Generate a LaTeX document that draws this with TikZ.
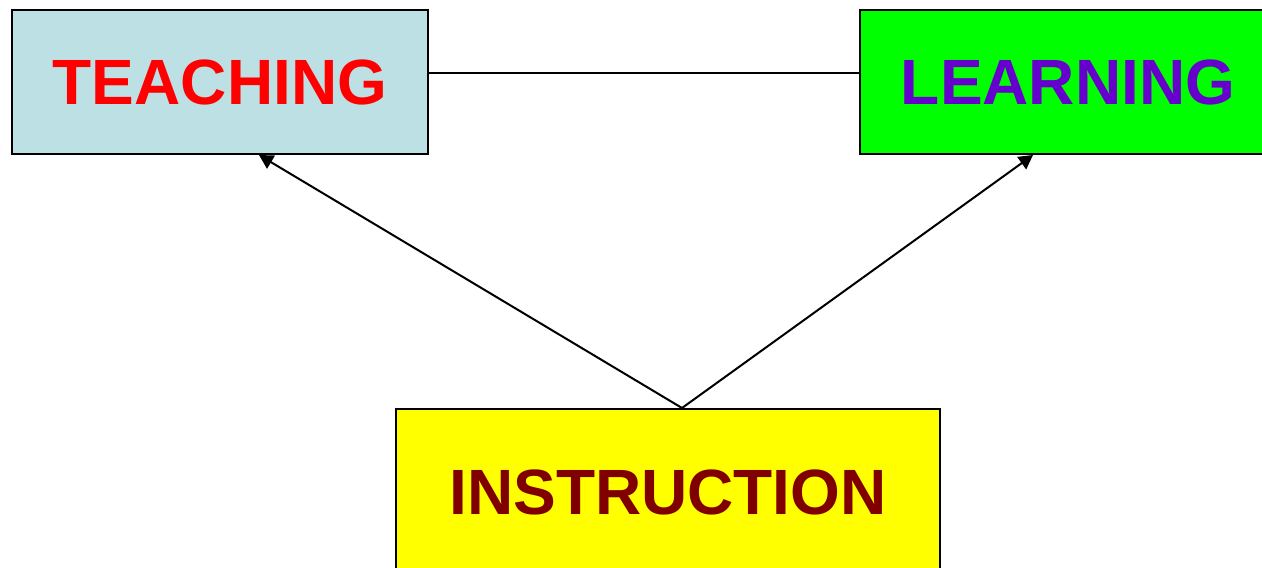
\documentclass[tikz,border=0pt]{standalone}
\usepackage{fontspec}
\setmainfont{Liberation Sans}
\usetikzlibrary{arrows.meta}
\definecolor{teachbg}{HTML}{BCE0E4}
\definecolor{learnbg}{HTML}{00FF00}
\definecolor{instbg}{HTML}{FFFF00}
\definecolor{teachtx}{HTML}{FF0000}
\definecolor{learntx}{HTML}{6600CC}
\definecolor{insttx}{HTML}{800000}
\tikzset{
  box/.style={draw=black, line width=1pt, inner sep=0pt, anchor=north west,
    font=\fontsize{32}{38}\selectfont\bfseries},
  link/.style={draw=black, line width=1pt},
  arr/.style={link, -{Triangle[length=7pt,width=7.5pt]}}
}
\begin{document}
\begin{tikzpicture}[x=0.5pt, y=-0.5pt]
  \useasboundingbox (0,0) rectangle (1262,567);
  \clip (0,0) rectangle (1262,567);
  % three concept boxes
  \node[box, fill=teachbg, text=teachtx, minimum width=208pt, minimum height=72pt]
    (teach) at (11,9) {TEACHING};
  \node[box, fill=learnbg, text=learntx, minimum width=208pt, minimum height=72pt]
    (learn) at (859,9) {LEARNING};
  \node[box, fill=instbg, text=insttx, minimum width=272pt, minimum height=83pt]
    (inst) at (395,408) {INSTRUCTION};
  % connectors
  \coordinate (src) at ([xshift=7pt]inst.north);
  \coordinate (tend) at ([xshift=19.5pt]teach.south);
  \coordinate (lend) at ([xshift=-17.5pt]learn.south);
  \draw[link] ([yshift=4.5pt]teach.east) -- ([yshift=4.5pt]learn.west);
  \draw[arr] (src) -- (tend);
  \draw[arr] (src) -- (lend);
\end{tikzpicture}
\end{document}
